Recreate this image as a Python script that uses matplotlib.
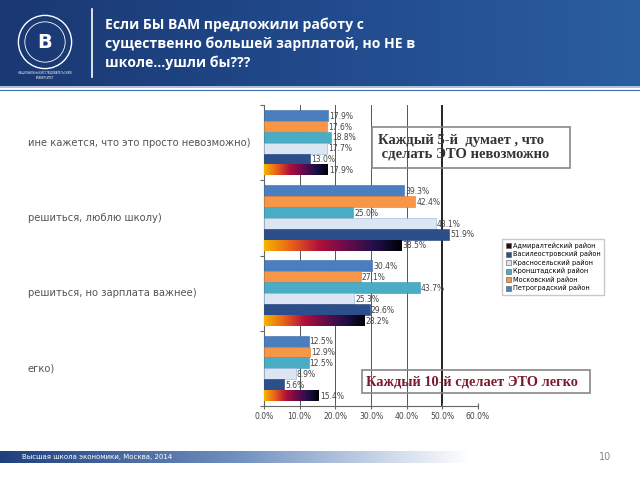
import numpy as np
import matplotlib.pyplot as plt
from matplotlib.colors import LinearSegmentedColormap
from matplotlib.patches import Rectangle, Circle
from matplotlib.transforms import blended_transform_factory

# Категории (сверху вниз) и районы (порядок столбиков в группе сверху вниз)
categories = ["ине кажется, что это просто невозможно)",
              "решиться, люблю школу)",
              "решиться, но зарплата важнее)",
              "егко)"]
districts = ["Петроградский район", "Московский район", "Кронштадский район",
             "Красносельский район", "Василеостровский район", "Адмиралтейский район"]

petrogr = [17.9, 39.3, 30.4, 12.5]
moskov = [17.6, 42.4, 27.1, 12.9]
kronsh = [18.8, 25.0, 43.7, 12.5]
krasnos = [17.7, 48.1, 25.3, 8.9]
vasil = [13.0, 51.9, 29.6, 5.6]
admir = [17.9, 38.5, 28.2, 15.4]
series = [petrogr, moskov, kronsh, krasnos, vasil, admir]

x_ticks = [0, 10, 20, 30, 40, 50, 60]

colors = ["#4a7ebf", "#f79646", "#4bacc6", "#dce6f2", "#2c4f8c", None]
edges = ["#3a6aa8", "#e07f30", "#3a9ab4", "#8fb0d8", "#22407a", "#222222"]
grad_cmap = LinearSegmentedColormap.from_list(
    "adm", ["#f8b400", "#e8601a", "#b0103a", "#6a0a4a", "#20104a", "#000008"])

fig = plt.figure(figsize=(6.4, 4.8), dpi=100)
fig.patch.set_facecolor("white")

# Шапка слайда
hdr = fig.add_axes([0, 1 - 86 / 480, 1, 86 / 480])
hgrad = np.linspace(0, 1, 256).reshape(1, -1)
hdr.imshow(hgrad, cmap=LinearSegmentedColormap.from_list("h", ["#1a3872", "#214a8c", "#2a5e9f"]),
           aspect="auto", extent=[0, 1, 0, 1])
hdr.set_xlim(0, 1)
hdr.set_ylim(0, 1)
hdr.axis("off")
hdr.plot([92 / 640, 92 / 640], [0.1, 0.9], color="white", lw=1.2)
hdr.text(45 / 640, 0.12, "НАЦИОНАЛЬНЫЙ ИССЛЕДОВАТЕЛЬСКИЙ\nУНИВЕРСИТЕТ", color="white",
         fontsize=1.8, ha="center", va="center", transform=hdr.transAxes)

# логотип
logo = fig.add_axes([17 / 640, 1 - 70 / 480, 56 / 640, 56 / 480])
logo.set_xlim(-1, 1)
logo.set_ylim(-1, 1)
logo.set_aspect("equal")
logo.axis("off")
logo.add_patch(Circle((0, 0), 0.95, fill=False, ec="white", lw=1.0))
logo.add_patch(Circle((0, 0), 0.72, fill=False, ec="white", lw=0.6))
logo.text(0, 0, "В", color="white", fontsize=14, fontweight="bold", ha="center", va="center")

fig.text(105 / 640, 1 - 44 / 480,
         "Если БЫ ВАМ предложили работу с\nсущественно большей зарплатой, но НЕ в\nшколе…ушли бы???",
         color="white", fontsize=10.1, fontweight="bold", family="Open Sans",
         ha="left", va="center", linespacing=1.4)

# линии под шапкой
fig.add_artist(plt.Line2D([0, 1], [1 - 87 / 480] * 2, color="#9fb6d6", lw=1.2))
fig.add_artist(plt.Line2D([0, 1], [1 - 89.5 / 480] * 2, color="#3e6aa8", lw=0.8))

# Основная диаграмма
ax = fig.add_axes([264 / 640, 1 - 406 / 480, 214 / 640, 301 / 480])
bar_h = 0.145
for j, vals in enumerate(series):
    ys = [i + 0.5 + (j - 2.5) * bar_h for i in range(len(categories))]
    if colors[j] is not None:
        ax.barh(ys, vals, height=bar_h, color=colors[j], edgecolor=edges[j], lw=0.4, zorder=3)
    else:
        bars = ax.barh(ys, vals, height=bar_h, color="none", edgecolor="none", zorder=3)
        for b, v in zip(bars, vals):
            y0 = b.get_y()
            im = ax.imshow(hgrad, cmap=grad_cmap, aspect="auto",
                           extent=[0, v, y0 + bar_h, y0], zorder=3)
            im.set_clip_path(b)
    for y, v in zip(ys, vals):
        ax.text(v + 0.3, y + 0.01, f"{v:.1f}%", fontsize=5.5, color="#444444",
                ha="left", va="center", zorder=4)

ax.set_xlim(0, 60)
ax.set_ylim(len(categories), 0)
ax.set_xticks(x_ticks)
ax.set_xticklabels([f"{t:.1f}%" for t in x_ticks], fontsize=5.5, color="#444444")
ax.set_yticks(range(len(categories) + 1))
ax.set_yticklabels([])
ax.tick_params(axis="y", direction="out", length=3, color="#666666")
ax.tick_params(axis="x", direction="inout", length=5, color="#666666", pad=2)
ax.grid(axis="x", color="#555555", lw=0.7, zorder=1)
for gl, t in zip(ax.get_xgridlines(), x_ticks):
    if t == 50:
        gl.set_color("#111111")
        gl.set_linewidth(1.3)
for s in ["top", "right"]:
    ax.spines[s].set_visible(False)
ax.spines["left"].set_color("#666666")
ax.spines["bottom"].set_color("#666666")

# Подписи категорий (обрезанные, как на слайде)
tr = blended_transform_factory(fig.transFigure, ax.transData)
for i, c in enumerate(categories):
    ax.text(28 / 640, i + 0.5, c, transform=tr, fontsize=7.2, color="#555555",
            ha="left", va="center", clip_on=False)

# Легенда
handles = [Rectangle((0, 0), 1, 1, fc=fc, ec="#555555", lw=0.4) for fc in
           ["#2a0a1a", "#2c4f8c", "#dce6f2", "#4bacc6", "#f79646", "#4a7ebf"]]
fig.legend(handles, districts[::-1], loc="upper left",
           bbox_to_anchor=(499 / 640, 1 - 236 / 480), fontsize=4.7,
           frameon=True, fancybox=False, edgecolor="#bbbbbb", handlelength=0.8,
           handleheight=0.8, handletextpad=0.3, labelspacing=0.3, borderpad=0.5)

# Текстовые выноски
fig.add_artist(Rectangle((372 / 640, 1 - 168 / 480), 198 / 640, 41 / 480,
                         transform=fig.transFigure, fill=False, ec="#888888", lw=1.2))
fig.text(378 / 640, 1 - 147.5 / 480, "Каждый 5-й  думает , что\n сделать ЭТО невозможно",
         family="Liberation Serif", fontweight="bold", fontsize=10.5, color="#333333",
         ha="left", va="center", linespacing=1.05)
fig.add_artist(Rectangle((362 / 640, 1 - 393 / 480), 228 / 640, 23 / 480,
                         transform=fig.transFigure, fill=False, ec="#888888", lw=1.2))
fig.text(366 / 640, 1 - 382 / 480, "Каждый 10-й сделает ЭТО легко",
         family="Liberation Serif", fontweight="bold", fontsize=10.4, color="#7a1a2e",
         ha="left", va="center")

# Подвал
ftr = fig.add_axes([0, 1 - 463 / 480, 470 / 640, 12 / 480])
ftr.imshow(hgrad, cmap=LinearSegmentedColormap.from_list("f", ["#1f3f7e", "#6f8fc0", "#ffffff"]),
           aspect="auto", extent=[0, 1, 0, 1])
ftr.axis("off")
fig.text(22 / 640, 1 - 457 / 480, "Высшая школа экономики, Москва, 2014", color="white",
         fontsize=5, ha="left", va="center")
fig.text(605 / 640, 1 - 457 / 480, "10", color="#888888", fontsize=7, ha="center", va="center")

fig.savefig("out.png", dpi=100)
